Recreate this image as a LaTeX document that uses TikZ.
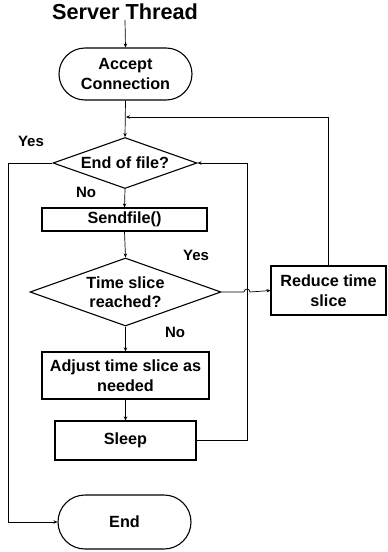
\documentclass[tikz,border=0pt]{standalone}
\usepackage{fontspec}
\setmainfont{Liberation Sans}
\usetikzlibrary{shapes.geometric,shapes.misc,arrows.meta}
\begin{document}
\begin{tikzpicture}[x=1pt,y=-1pt,
  every node/.style={font=\fontsize{16.2}{19.5}\selectfont\bfseries, align=center, inner sep=0pt},
  term/.style={draw, line width=1.1pt, rounded rectangle, minimum width=133pt, minimum height=52pt},
  proc/.style={draw, line width=1.1pt, rectangle},
  dec/.style={draw, line width=1.1pt, diamond},
  arr/.style={line width=0.7pt, -{Stealth[length=4pt,width=3.5pt]}},
  lbl/.style={font=\fontsize{15}{17}\selectfont\bfseries}]
\useasboundingbox (0,0) rectangle (388,552);
\node[font=\fontsize{21.7}{24}\selectfont\bfseries] (title) at (125,12) {Server Thread};
\node[term] (accept) at (125.5,74) {Accept\\Connection};
\node[dec, minimum width=144pt, minimum height=51pt] (eof) at (125,163) {};
\node (eoft) at (eof.center) {End of file?};
\node[proc, minimum width=165pt, minimum height=23pt] (send) at (124.5,219.5) {Sendfile()};
\node[dec, minimum width=191pt, minimum height=68pt] (ts) at (125.5,292) {};
\node (tst) at (ts.center) {Time slice\\reached?};
\node[proc, minimum width=115pt, minimum height=49pt] (reduce) at (328.5,290.5) {Reduce time\\slice};
\node[proc, minimum width=167pt, minimum height=47pt] (adjust) at (125.5,375.5) {Adjust time slice as\\needed};
\node[proc, minimum width=141pt, minimum height=39pt] (sleep) at (125.5,440.5) {Sleep};
\node[term, minimum height=54pt] (end) at (124.5,522) {End};
\node[lbl] (yes1) at (31,141) {Yes};
\node[lbl] (no1) at (86,192) {No};
\node[lbl] (yes2) at (196,255) {Yes};
\node[lbl] (no2) at (175,332) {No};
\coordinate (ret) at (126,117);
\coordinate (lc) at (8,163);
\coordinate (hopL) at (244,292);
\coordinate (rc1) at (247,440.5);
\coordinate (rc2) at (247,163);
\draw[arr] (title.south) -- (accept.north);
\draw[arr] (accept.south) -- (eof.north);
\draw[arr] (reduce.north) |- (ret);
\draw[arr] (eof.west) -- (lc) |- (end.west);
\draw[arr] (eof.south) -- (send.north);
\draw[arr] (send.south) -- (ts.north);
\draw[arr] (ts.east) -- (hopL) arc[start angle=180,end angle=360,radius=3] -- (reduce.west);
\draw[arr] (ts.south) -- (adjust.north);
\draw[arr] (adjust.south) -- (sleep.north);
\draw[arr] (sleep.east) -- (rc1) -- (rc2) -- (eof.east);
\end{tikzpicture}
\end{document}
